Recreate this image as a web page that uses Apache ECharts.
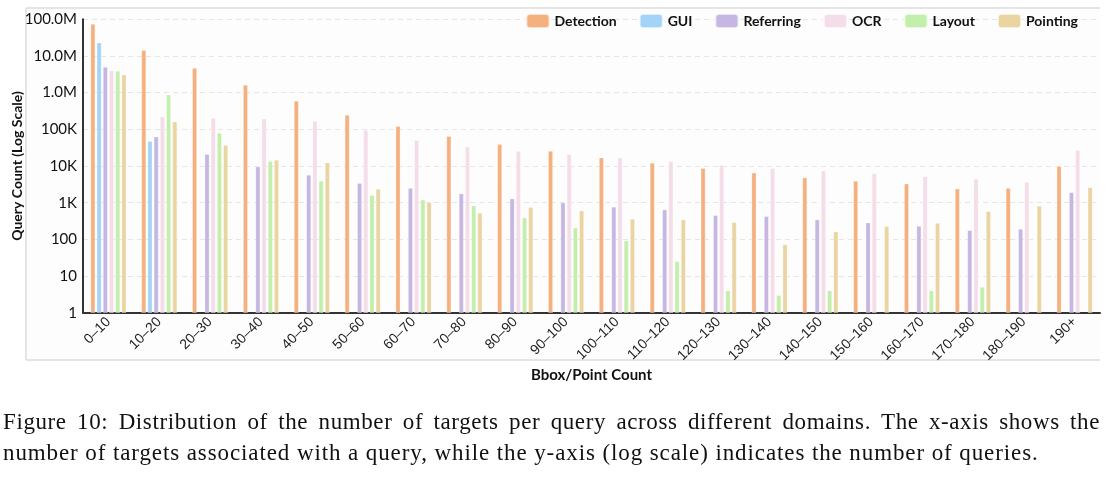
<!DOCTYPE html>
<html>
<head>
<meta charset="utf-8">
<script src="https://cdn.jsdelivr.net/npm/echarts@6/dist/echarts.min.js"></script>
<style>
  html, body { margin: 0; padding: 0; background: #fff; }
  #wrap { position: relative; width: 1113px; height: 478px; overflow: hidden; }
  #chart { position: absolute; left: 0; top: 0; width: 1113px; height: 478px; }
  .cap { position: absolute; left: 3px; font-family: "Liberation Serif", "DejaVu Serif", serif; font-size: 23px; letter-spacing: 0.9px; color: #111; white-space: nowrap; }
  #cap1 { top: 409px; width: 1097px; text-align: justify; text-align-last: justify; letter-spacing: 0.6px; }
  #cap2 { top: 440px; }
</style>
</head>
<body>
<div id="wrap">
  <div id="chart"></div>
  <div class="cap" id="cap1">Figure 10: Distribution of the number of targets per query across different domains. The x-axis shows the</div>
  <div class="cap" id="cap2">number of targets associated with a query, while the y-axis (log scale) indicates the number of queries.</div>
</div>
<script>
const categories = ['0–10','10–20','20–30','30–40','40–50','50–60','60–70','70–80','80–90','90–100',
  '100–110','110–120','120–130','130–140','140–150','150–160','160–170','170–180','180–190','190+'];
const seriesNames = ['Detection','GUI','Referring','OCR','Layout','Pointing'];
const detection = [74.6e6, 14.3e6, 4.7e6, 1.62e6, 593e3, 246e3, 121e3, 65e3, 39e3, 25.7e3, 16.9e3, 12.1e3, 8.7e3, 6.5e3, 4.8e3, 3.9e3, 3.3e3, 2.4e3, 2.5e3, 9.8e3];
const gui = [23e6, 47e3, null, null, null, null, null, null, null, null, null, null, null, null, null, null, null, null, null, null];
const referring = [5.0e6, 63e3, 21e3, 9.6e3, 5.7e3, 3.4e3, 2.5e3, 1.76e3, 1.29e3, 1000, 765, 645, 453, 425, 344, 285, 231, 176, 191, 1900];
const ocr = [4.0e6, 221e3, 204e3, 195e3, 169e3, 96e3, 50e3, 33.6e3, 25.7e3, 21e3, 16.9e3, 13.4e3, 10.6e3, 8.7e3, 7.4e3, 6.2e3, 5.2e3, 4.4e3, 3.66e3, 27e3];
const layout = [3.9e6, 880e3, 80e3, 13.4e3, 3.9e3, 1.6e3, 1.2e3, 830, 390, 206, 92, 25, 4, 3, 4, null, 4, 5, null, null];
const pointing = [3.1e6, 162e3, 37e3, 14.6e3, 12.3e3, 2.36e3, 1.02e3, 523, 750, 605, 359, 344, 292, 72, 162, 227, 279, 582, 815, 2600];
const colors = ['#F5B07F', '#A3D3F6', '#C5B6E2', '#F4DDE9', '#C2EFAB', '#EAD4A0'];
const allData = [detection, gui, referring, ocr, layout, pointing];

const uiFont = '"Comic Sans MS", "Lato", "Noto Sans", sans-serif';

function yFmt(v) {
  if (v >= 1e6) return (v / 1e6).toFixed(1) + 'M';
  if (v >= 1e3) return Math.round(v / 1e3) + 'K';
  return String(Math.round(v));
}

const chart = echarts.init(document.getElementById('chart'), null, { renderer: 'canvas' });
chart.setOption({
  animation: false,
  backgroundColor: 'transparent',
  color: colors,
  graphic: [
    { type: 'rect', shape: { x: 26, y: 8, width: 1074, height: 352 }, style: { fill: '#FDFDFD' }, z: -10 },
    { type: 'line', shape: { x1: 26, y1: 8, x2: 1100, y2: 8 }, style: { stroke: '#DCDCDC', lineWidth: 1.5 }, z: -9 },
    { type: 'line', shape: { x1: 26, y1: 8, x2: 26, y2: 360 }, style: { stroke: '#DCDCDC', lineWidth: 1.5 }, z: -9 },
    { type: 'line', shape: { x1: 26, y1: 360, x2: 1100, y2: 360 }, style: { stroke: '#DCDCDC', lineWidth: 1.5 }, z: -9 }
  ],
  legend: {
    data: seriesNames,
    right: 30,
    top: 8,
    itemWidth: 23,
    itemHeight: 14,
    itemGap: 22,
    icon: 'roundRect',
    textStyle: { fontFamily: uiFont, fontSize: 14, fontWeight: 'bold', color: '#111' }
  },
  grid: { left: 83, right: 13, top: 19.3, bottom: 165.3, containLabel: false, outerBoundsMode: 'none' },
  xAxis: {
    type: 'category',
    data: categories,
    name: 'Bbox/Point Count',
    nameLocation: 'middle',
    nameGap: 55,
    nameMoveOverlap: false,
    nameTextStyle: { fontFamily: uiFont, fontSize: 15, fontWeight: 'bold', color: '#111' },
    axisLine: { lineStyle: { color: '#333', width: 2 } },
    axisTick: { alignWithLabel: true, length: 4, lineStyle: { color: '#333' } },
    axisLabel: { rotate: 45, fontFamily: '"Liberation Sans", Arial, sans-serif', fontSize: 14, color: '#222', margin: 7, interval: 0 }
  },
  yAxis: {
    type: 'log',
    logBase: 10,
    min: 1,
    max: 1e8,
    name: 'Query Count (Log Scale)',
    nameLocation: 'middle',
    nameGap: 59,
    nameMoveOverlap: false,
    nameTextStyle: { fontFamily: uiFont, fontSize: 14, fontWeight: 'bold', color: '#111' },
    axisLine: { show: true, lineStyle: { color: '#333', width: 2 } },
    axisTick: { show: false },
    splitLine: { show: true, lineStyle: { color: '#E6E6E6', type: [5, 4], width: 1 } },
    axisLabel: { formatter: yFmt, fontFamily: uiFont, fontSize: 15, color: '#111', margin: 6 }
  },
  series: seriesNames.map((n, i) => ({
    name: n,
    type: 'bar',
    data: allData[i],
    barWidth: 4.6,
    barGap: '35%',
    itemStyle: { color: colors[i], borderColor: 'rgba(255,255,255,0.6)', borderWidth: 0.5 }
  }))
});
</script>
</body>
</html>
